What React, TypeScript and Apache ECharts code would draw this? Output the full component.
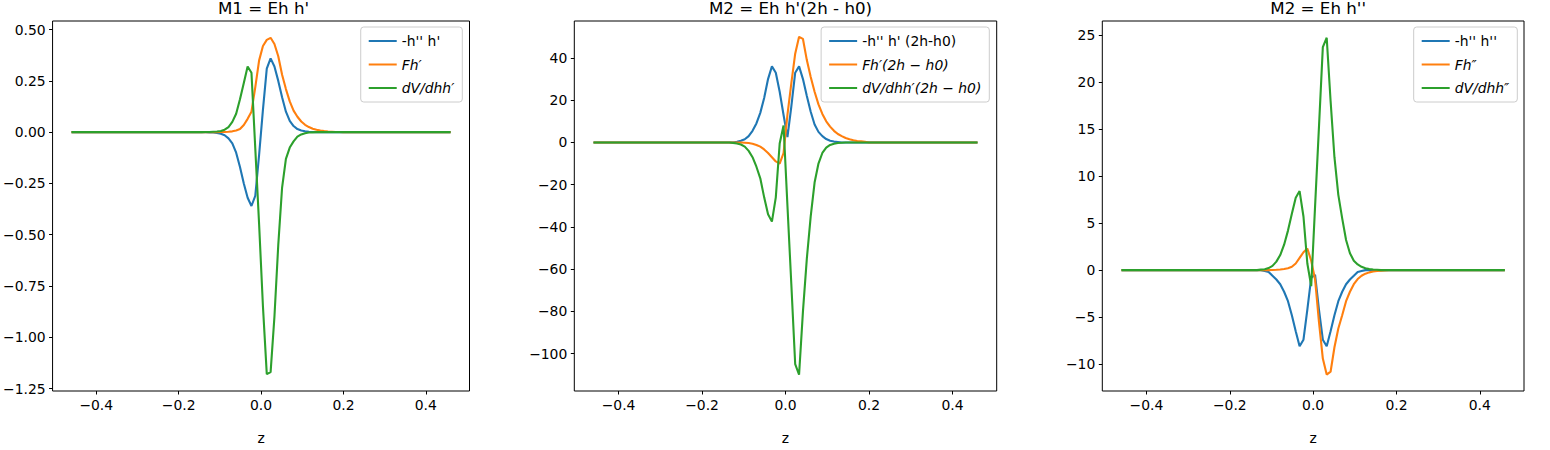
import { useEffect, useRef } from 'react';
import * as echarts from 'echarts';

// 100 samples on z in [-0.46, 0.46]; values below are read for sample indices 33..70,
// everything outside that window sits flat on zero in the picture.
const N = 100;
const START = 33;
const zs = Array.from({ length: N }, (_, i) => -0.46 + (i * 0.92) / (N - 1));

const m1Blue = [0, 0, 0, -0.001, -0.002, -0.004, -0.008, -0.015, -0.03, -0.055, -0.1, -0.17, -0.25, -0.32, -0.36, -0.31, -0.11, 0.11, 0.31, 0.36, 0.32, 0.25, 0.17, 0.1, 0.055, 0.03, 0.015, 0.008, 0.004, 0.002, 0.001, 0, 0, 0, 0, 0, 0, 0];
const m1Orange = [0, 0, 0, 0, 0, 0.0003, 0.0005, 0.001, 0.002, 0.004, 0.008, 0.015, 0.035, 0.065, 0.1, 0.22, 0.35, 0.42, 0.45, 0.46, 0.43, 0.37, 0.28, 0.21, 0.15, 0.105, 0.075, 0.052, 0.036, 0.025, 0.017, 0.012, 0.008, 0.005, 0.003, 0.002, 0.001, 0.001];
const m1Green = [0, 0, 0.0005, 0.001, 0.002, 0.003, 0.006, 0.012, 0.025, 0.05, 0.09, 0.16, 0.24, 0.32, 0.29, -0.08, -0.45, -0.85, -1.18, -1.17, -0.9, -0.55, -0.27, -0.13, -0.075, -0.045, -0.022, -0.011, -0.005, -0.002, -0.001, 0, 0, 0, 0, 0, 0, 0];

const m2Blue = [0, 0, 0, 0, 0.3, 0.8, 1.5, 3, 5.5, 9, 14, 21, 30, 36, 33, 24, 13, 2.5, 17, 33, 36, 30, 22, 14.5, 8.5, 5, 3, 1.6, 0.8, 0.4, 0.2, 0, 0, 0, 0, 0, 0, 0];
const m2Orange = [0, 0, 0, 0, 0, 0, -0.15, -0.3, -0.6, -1.2, -2, -3.3, -5, -7, -9, -10, -5, 13, 28, 42, 50, 49, 39, 31, 24, 18, 13.5, 10, 7.5, 5.5, 4, 3, 2.1, 1.5, 1, 0.7, 0.5, 0.3];
const m2Green = [0, 0, 0, -0.2, -0.5, -1, -2, -4, -7, -11.5, -17, -26, -34, -37.5, -26, -0.5, 8, -30, -67, -105, -110, -80, -55, -35, -19, -10, -5, -2.5, -1.2, -0.6, -0.3, -0.15, 0, 0, 0, 0, 0, 0];

const m3Blue = [0, 0, 0, 0, -0.1, -0.2, -0.6, -1, -1.5, -2.3, -3.3, -4.8, -6.5, -8.1, -7.4, -4.2, -0.8, -0.5, -4.2, -7.4, -8.1, -6.5, -4.8, -3.3, -2.3, -1.5, -1, -0.6, -0.2, -0.1, 0, 0, 0, 0, 0, 0, 0, 0];
const m3Orange = [0, 0, 0, 0, 0, 0, 0.02, 0.04, 0.07, 0.12, 0.2, 0.35, 0.7, 1.3, 1.9, 2.3, 1, -1, -5.5, -9.4, -11.1, -10.8, -8.2, -6.2, -4.8, -3.3, -2.3, -1.5, -0.95, -0.6, -0.38, -0.24, -0.15, -0.1, -0.06, -0.04, -0.02, -0.01];
const m3Green = [0, 0, 0, 0.05, 0.1, 0.22, 0.45, 0.9, 1.6, 2.7, 4.2, 6, 7.7, 8.4, 5.7, 0.7, -1.7, 6.8, 15.2, 23.7, 24.7, 18, 12, 8, 5.5, 3.2, 1.8, 1, 0.6, 0.35, 0.2, 0.12, 0.07, 0.04, 0, 0, 0, 0];

const titles = ["M1 = Eh h'", "M2 = Eh h'(2h - h0)", "M2 = Eh h''"];
const names = [
  ["-h'' h'", 'Fh′', 'dV/dhh′'],
  ["-h'' h' (2h-h0)", 'Fh′(2h − h0)', 'dV/dhh′(2h − h0)'],
  ["-h'' h''", 'Fh″', 'dV/dhh″'],
];
const panels = [
  [m1Blue, m1Orange, m1Green],
  [m2Blue, m2Orange, m2Green],
  [m3Blue, m3Orange, m3Green],
];
const xTicks = [-0.4, -0.2, 0, 0.2, 0.4];
const yTicks = [
  [-1.25, -1, -0.75, -0.5, -0.25, 0, 0.25, 0.5],
  [-100, -80, -60, -40, -20, 0, 20, 40],
  [-10, -5, 0, 5, 10, 15, 20, 25],
];
const yRange = [
  [-1.262, 0.542],
  [-117.7, 57.5],
  [-12.85, 26.48],
];

const COLORS = ['#1f77b4', '#ff7f0e', '#2ca02c'];
const FONT = 'DejaVu Sans';

const full = (part: number[]) =>
  zs.map((z, i) => [z, i >= START && i < START + part.length ? part[i - START] : 0]);

const minus = (s: string) => s.replace('-', '−');

export default function App() {
  const ref = useRef<HTMLDivElement | null>(null);

  useEffect(() => {
    if (!ref.current) return;
    const chart = echarts.init(ref.current, undefined, { renderer: 'svg' });

    const lefts = [47.5, 574.3, 1102.3];
    const widths = [422, 422.4, 421.7];
    const legendRight = [1087.7, 560.7, 32.7];

    chart.setOption({
      animation: false,
      title: titles.map((t, p) => ({
        text: t,
        left: lefts[p] + widths[p] / 2,
        top: -6,
        textAlign: 'center',
        textStyle: { fontFamily: FONT, fontSize: 16.7, fontWeight: 'normal', color: '#000' },
      })),
      grid: lefts.map((l, p) => ({
        left: l,
        width: widths[p],
        top: 21,
        height: 390,
        show: true,
        borderColor: '#000',
        borderWidth: 1,
        backgroundColor: 'transparent',
      })),
      legend: names.map((ns, p) => ({
        orient: 'vertical',
        right: legendRight[p],
        top: 27,
        icon: 'rect',
        itemWidth: 28,
        itemHeight: 2,
        itemGap: 9.5,
        padding: [7, 8, 7, 8],
        borderColor: '#ccc',
        borderWidth: 1,
        borderRadius: 3,
        backgroundColor: '#fff',
        data: ns.map((n, k) => ({
          name: n,
          textStyle: { fontStyle: k === 0 ? 'normal' : 'italic' },
        })),
        textStyle: { fontFamily: FONT, fontSize: 13.9, color: '#000' },
      })),
      xAxis: lefts.map((_, p) => ({
        type: 'value',
        gridIndex: p,
        min: -0.506,
        max: 0.506,
        name: 'z',
        nameLocation: 'middle',
        nameGap: 40,
        nameTextStyle: { fontFamily: FONT, fontSize: 13.9, color: '#000' },
        axisLine: { show: false, onZero: false },
        splitLine: { show: false },
        axisTick: { show: true, length: 3.5, customValues: xTicks, lineStyle: { color: '#000' } },
        axisLabel: {
          customValues: xTicks,
          fontFamily: FONT,
          fontSize: 13.9,
          color: '#000',
          margin: 7,
          formatter: (v: number) => minus(v.toFixed(1)),
        },
      })),
      yAxis: lefts.map((_, p) => ({
        type: 'value',
        gridIndex: p,
        min: yRange[p][0],
        max: yRange[p][1],
        axisLine: { show: false, onZero: false },
        splitLine: { show: false },
        axisTick: { show: true, length: 3.5, customValues: yTicks[p], lineStyle: { color: '#000' } },
        axisLabel: {
          customValues: yTicks[p],
          fontFamily: FONT,
          fontSize: 13.9,
          color: '#000',
          margin: 7,
          formatter: (v: number) => minus(p === 0 ? v.toFixed(2) : String(Math.round(v))),
        },
      })),
      series: panels.flatMap((set, p) =>
        set.map((vals, k) => ({
          type: 'line',
          name: names[p][k],
          xAxisIndex: p,
          yAxisIndex: p,
          data: full(vals),
          showSymbol: false,
          color: COLORS[k],
          lineStyle: { width: 2.1, color: COLORS[k] },
        })),
      ),
    });

    return () => chart.dispose();
  }, []);

  return (
    <div
      ref={ref}
      style={{ position: 'fixed', left: 0, top: 0, width: 1550, height: 450, background: '#fff' }}
    />
  );
}
